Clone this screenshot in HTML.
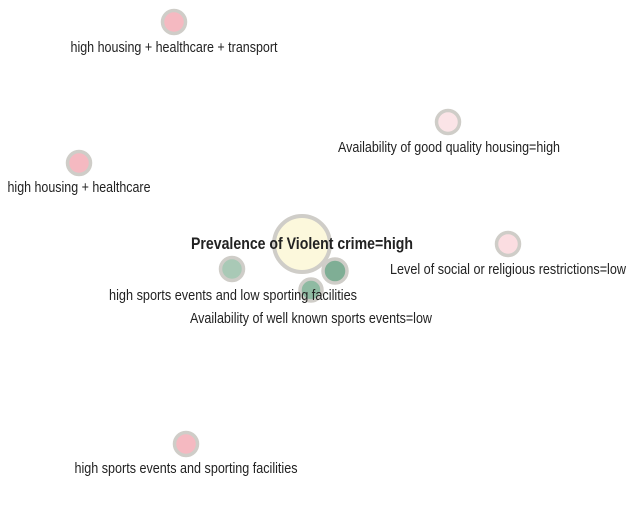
<!DOCTYPE html>
<html><head><meta charset="utf-8"><style>
html,body{margin:0;padding:0;background:#fff;width:643px;height:509px;overflow:hidden}
svg text{font-family:"Liberation Sans Narrow","Liberation Sans",sans-serif;fill:#222}
</style></head><body>
<svg id="chart" width="643" height="509" viewBox="0 0 643 509" xmlns="http://www.w3.org/2000/svg"></svg>
<script>
const nodeLabels=["high housing + healthcare + transport","high housing + healthcare","Availability of good quality housing=high","Level of social or religious restrictions=low","high sports events and low sporting facilities","","Availability of well known sports events=low","high sports events and sporting facilities","Prevalence of Violent crime=high"];
const nodeX=[174,79,448,508,232,335,311,186,302];
const nodeY=[22,163,122,244,269,271,290,444,244];
const nodeR=[11.5,11.5,11.5,11.5,11.5,12,11,11.5,28];
const nodeFill=["#f5b9c1","#f5b9c1","#fbe4e7","#fbdde1","#a9c9b6","#7fae95","#8fbaa2","#f5b9c1","#fcf8dc"];
const labelX=[174,79,449,508,233,0,311,186,302];
const labelY=[52,192,152,274,300,0,323,473,249];
const labelW=[207,143,222,236,248,0,242,223,222];
const svg=document.getElementById('chart');
const NS="http://www.w3.org/2000/svg";
const order=[8,0,1,2,3,4,5,6,7];
order.forEach(i=>{
  const c=document.createElementNS(NS,'circle');
  c.setAttribute('cx',nodeX[i]);c.setAttribute('cy',nodeY[i]);c.setAttribute('r',nodeR[i]);
  c.setAttribute('fill',nodeFill[i]);c.setAttribute('stroke','#cfcdc8');c.setAttribute('stroke-width',i===8?4:3.5);
  
  
  svg.appendChild(c);
});
order.forEach(i=>{
  if(!nodeLabels[i])return;
  const t=document.createElementNS(NS,'text');
  t.setAttribute('x',labelX[i]);t.setAttribute('y',labelY[i]);
  t.setAttribute('text-anchor','middle');
  t.setAttribute('font-size',i===8?17:15);
  if(i===8)t.setAttribute('font-weight','bold');
  t.setAttribute('textLength',labelW[i]);t.setAttribute('lengthAdjust','spacingAndGlyphs');
  t.textContent=nodeLabels[i];
  
  
  svg.appendChild(t);
});
</script>
</body></html>
